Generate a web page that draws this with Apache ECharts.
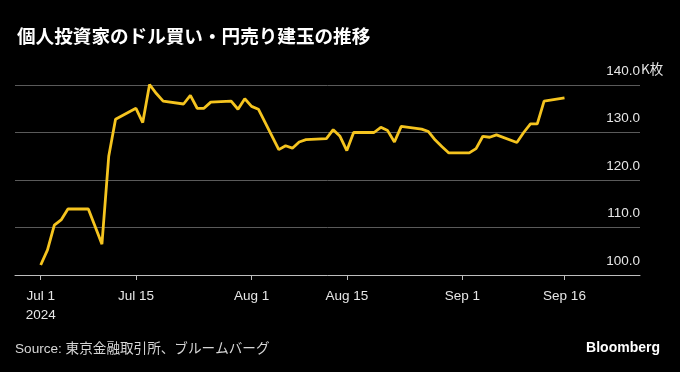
<!DOCTYPE html>
<html>
<head>
<meta charset="utf-8">
<script src="https://cdn.jsdelivr.net/npm/echarts@6/dist/echarts.min.js"></script>
<style>
html,body{margin:0;padding:0;background:#000;}
#chart{width:680px;height:372px;}
</style>
</head>
<body>
<div id="chart"></div>
<script>
const dates = ["2024-07-01","2024-07-02","2024-07-03","2024-07-04","2024-07-05",
"2024-07-08","2024-07-09","2024-07-10","2024-07-11","2024-07-12",
"2024-07-15","2024-07-16","2024-07-17","2024-07-18","2024-07-19",
"2024-07-22","2024-07-23","2024-07-24","2024-07-25","2024-07-26",
"2024-07-29","2024-07-30","2024-07-31","2024-08-01","2024-08-02",
"2024-08-05","2024-08-06","2024-08-07","2024-08-08","2024-08-09",
"2024-08-12","2024-08-13","2024-08-14","2024-08-15","2024-08-16",
"2024-08-19","2024-08-20","2024-08-21","2024-08-22","2024-08-23",
"2024-08-26","2024-08-27","2024-08-28","2024-08-29","2024-08-30",
"2024-09-02","2024-09-03","2024-09-04","2024-09-05","2024-09-06",
"2024-09-09","2024-09-10","2024-09-11","2024-09-12","2024-09-13",
"2024-09-16"];
const positions = [102.1,105.3,110.5,111.6,113.9,
113.9,110.2,106.5,125.0,132.8,
135.1,132.1,140.1,138.2,136.6,
136.0,137.8,135.1,135.1,136.4,
136.6,134.9,137.1,135.5,134.9,
126.4,127.2,126.7,128.0,128.5,
128.7,130.6,129.2,126.2,130.0,
130.0,131.1,130.4,128.0,131.3,
130.7,130.2,128.4,127.0,125.7,
125.7,126.6,129.2,129.0,129.5,
127.9,130.0,131.8,131.8,136.6,
137.3];
const tickDates = ["2024-07-01","2024-07-15","2024-08-01","2024-08-15","2024-09-01","2024-09-16"];
const tickLabels = ["Jul 1\n2024","Jul 15","Aug 1","Aug 15","Sep 1","Sep 16"];
const yTicks = [100,110,120,130,140];

const DAY = 86400000;
const base = Date.UTC(2024,6,1);
function dayNum(s){const p=s.split('-');return (Date.UTC(+p[0],+p[1]-1,+p[2])-base)/DAY;}
const seriesData = dates.map((d,i)=>[dayNum(d),positions[i]]);
const tickDays = tickDates.map(dayNum);
const labelMap = {};
tickDays.forEach((d,i)=>{labelMap[d]=tickLabels[i];});

const FONT = "'Liberation Sans', Arial, 'Noto Sans CJK JP', sans-serif";
const chart = echarts.init(document.getElementById('chart'));
chart.setOption({
  backgroundColor:'#000',
  animation:false,
  textStyle:{fontFamily:FONT},
  title:{
    text:'個人投資家のドル買い・円売り建玉の推移',
    left:12, top:22,
    textStyle:{color:'#fff',fontSize:18.6,fontWeight:'bold',fontFamily:"'Noto Sans CJK JP', sans-serif"}
  },
  grid:{left:15,right:40,top:85,bottom:97},
  xAxis:{
    type:'value',
    min:-3.78, max:88.1,
    axisLine:{show:true,lineStyle:{color:'#bdbdbd',width:1}},
    axisTick:{show:true,customValues:tickDays,length:5,lineStyle:{color:'#bdbdbd'}},
    axisLabel:{customValues:tickDays,color:'#e6e6e6',fontSize:13.5,margin:12,lineHeight:19,
      fontFamily:FONT,formatter:v=>labelMap[v]||''},
    splitLine:{show:false}
  },
  yAxis:{
    type:'value',position:'right',min:100,max:140,interval:10,
    axisLine:{show:false},axisTick:{show:false},
    axisLabel:{inside:true,align:'right',verticalAlign:'bottom',margin:0,padding:[0,0,7,0],
      color:'#e6e6e6',fontSize:13.5,fontFamily:FONT,formatter:v=>v.toFixed(1)},
    splitLine:{show:true,lineStyle:{color:'#5a5a5a',width:1}}
  },
  graphic:[
    {type:'text',left:641,top:62,style:{text:'K枚',fill:'#e6e6e6',font:"13.5px 'Noto Sans CJK JP', sans-serif"}},
    {type:'text',left:15,top:342,style:{text:'Source: 東京金融取引所、ブルームバーグ',fill:'#d6d6d6',font:"13.6px "+FONT}},
    {type:'text',right:20,top:341,style:{text:'Bloomberg',fill:'#fff',font:"bold 14px "+FONT}}
  ],
  series:[{
    type:'line',data:seriesData,showSymbol:false,clip:false,
    lineStyle:{color:'#f5c41f',width:2.8},
    itemStyle:{color:'#f5c41f'}
  }]
});
</script>
</body>
</html>
